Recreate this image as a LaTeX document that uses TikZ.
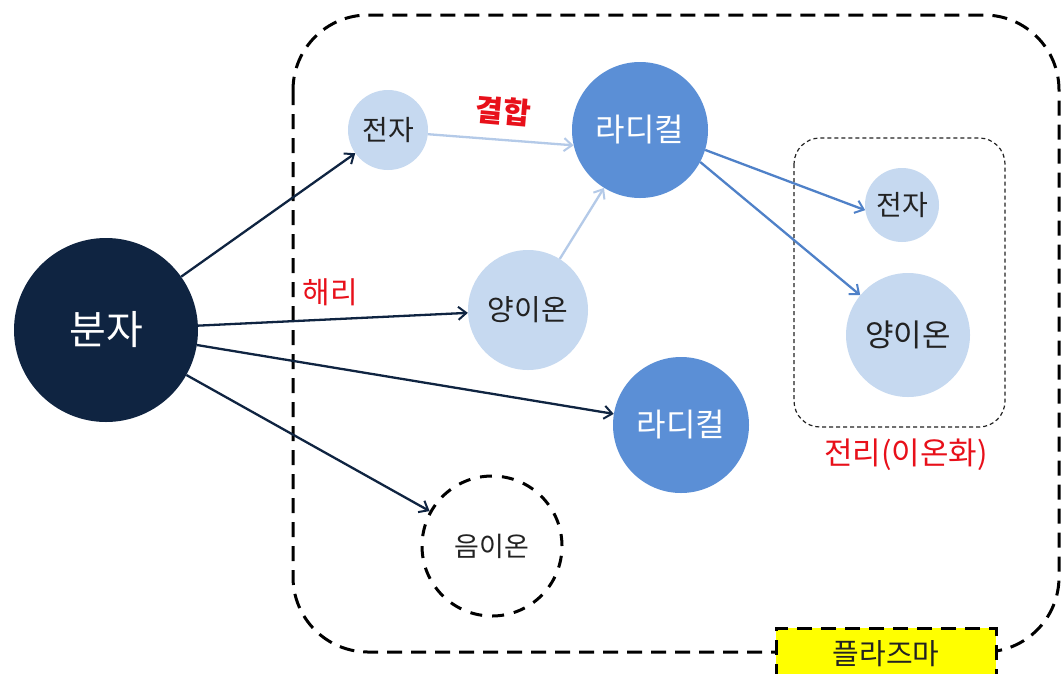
\documentclass[tikz,border=0pt]{standalone}
\usepackage{fontspec}
\setmainfont{Noto Sans CJK KR}
\usetikzlibrary{arrows.meta}
\definecolor{navy}{HTML}{0F2441}
\definecolor{radblue}{HTML}{5B8FD6}
\definecolor{lightnode}{HTML}{C6D9F0}
\definecolor{lightarrow}{HTML}{B4CAE8}
\definecolor{midarrow}{HTML}{4F81C8}
\definecolor{txt}{HTML}{222222}
\definecolor{redtxt}{HTML}{E8101A}
\definecolor{plasma}{HTML}{FFFF00}
\newcommand{\fs}[1]{\fontsize{#1}{#1}\selectfont}
\begin{document}
\begin{tikzpicture}[x=1pt,y=-1pt,
  ball/.style={circle,inner sep=0pt,minimum size=#1*2pt},
  lightball/.style={ball=#1,fill=lightnode,text=txt},
  radball/.style={ball=#1,fill=radblue,text=white},
  tip/.style={-{Straight Barb[length=8pt,width=13pt,line width=2pt]}},
  darkarr/.style={draw=navy,line width=2.3pt,tip},
  lightarr/.style={draw=lightarrow,line width=2.3pt,tip},
  bluearr/.style={draw=midarrow,line width=2.3pt,tip},
  bigdash/.style={line width=3pt,dash pattern=on 15pt off 9pt},
  redlabel/.style={text=redtxt},
]
\useasboundingbox (0,0) rectangle (1062,673);
\clip (0,0) rectangle (1062,673);
\fill[white] (0,0) rectangle (1062,673);

% plasma region
\draw[bigdash,rounded corners=75pt] (293,15) rectangle (1059,652);
\node[draw,bigdash,fill=plasma,minimum width=220pt,minimum height=52pt,inner sep=0pt,
  font=\fs{29},text=txt] (plasma) at (886,654) {플라즈마};

% ionization box
\draw[line width=1.2pt,dash pattern=on 4pt off 3pt,draw=txt,rounded corners=26pt] (794,138) rectangle (1005,427);
\node[redlabel,font=\fs{31}] (ionlbl) at (906,455) {전리(이온화)};

% nodes
\node[ball=92,fill=navy,text=white,font=\fs{40}] (mol) at (106,330) {분자};
\node[lightball=40,font=\fs{28}] (e1) at (388,130) {전자};
\node[radball=68,font=\fs{32}] (r1) at (640,130) {라디컬};
\node[lightball=60,font=\fs{29}] (p1) at (528,310) {양이온};
\node[radball=68,font=\fs{32}] (r2) at (681,425) {라디컬};
\node[ball=70,draw=black,bigdash,dash pattern=on 12pt off 10pt,text=txt,font=\fs{27}] (n1) at (492,546) {음이온};
\node[lightball=37,font=\fs{28}] (e2) at (902,205) {전자};
\node[lightball=62,font=\fs{31}] (p2) at (908,335) {양이온};

% labels
\node[redlabel,font=\fs{30}\bfseries,rotate=-5] (bond) at (503,111) {결합};
\node[redlabel,font=\fs{30}] (diss) at (330,292) {해리};

% arrows
\draw[darkarr] (mol) -- (e1);
\draw[darkarr] (mol) -- (p1);
\draw[darkarr] (mol) -- (r2);
\draw[darkarr] (mol) -- (n1);
\draw[lightarr] (e1.-6) -- (r1.193);
\draw[lightarr] (p1) -- (r1);
\draw[bluearr] (r1.-17) -- (e2.188);
\draw[bluearr] (r1.-28) -- (p2);
\end{tikzpicture}
\end{document}
